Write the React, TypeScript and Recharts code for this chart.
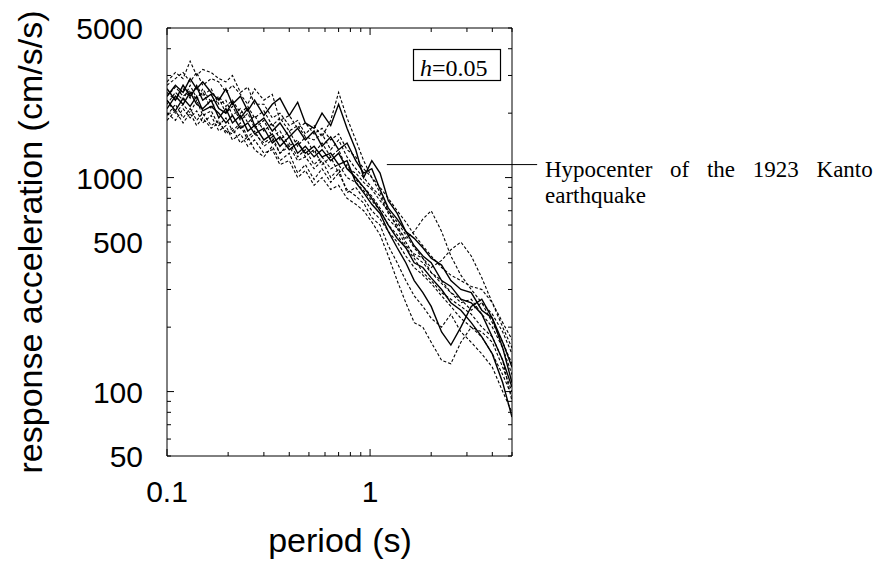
import { LineChart, Line, XAxis, YAxis, ReferenceLine } from "recharts";

// response spectra, h = 0.05 — periods in s, acceleration in cm/s/s
const periods = [
  0.1, 0.11, 0.12, 0.13, 0.14, 0.15, 0.165, 0.18, 0.195, 0.21, 0.23, 0.25, 0.27, 0.3,
  0.33, 0.36, 0.4, 0.44, 0.48, 0.53, 0.58, 0.64, 0.7, 0.77, 0.85, 0.93, 1.02, 1.12,
  1.23, 1.36, 1.5, 1.65, 1.82, 2.0, 2.25, 2.5, 2.8, 3.15, 3.55, 4.0, 4.5, 5.0,
];

const solid1 = [
  2400, 2700, 2500, 2900, 2600, 2800, 2500, 2300, 2600, 2200, 2400, 2050, 2300, 1950,
  2200, 2350, 1950, 2250, 1800, 1700, 2000, 1750, 2200, 1700, 1350, 1000, 1200, 1050,
  780, 680, 560, 520, 470, 420, 390, 330, 300, 290, 240, 220, 170, 130,
];
const solid2 = [
  2600, 2300, 2700, 2400, 2650, 2300, 2450, 2100, 2000, 2250, 1900, 2100, 1750, 1900,
  1650, 1800, 1550, 1700, 1500, 1650, 1400, 1550, 1350, 1450, 1200, 1050, 1100, 880,
  720, 640, 560, 480, 430, 400, 330, 310, 270, 260, 230, 180, 140, 105,
];
const solid3 = [
  2100, 2400, 2200, 2500, 2200, 2100, 2300, 1900, 2100, 1800, 1950, 1650, 1750, 1500,
  1600, 1400, 1550, 1300, 1400, 1250, 1350, 1200, 1300, 1100, 1000, 900, 800, 700,
  600, 520, 470, 400, 380, 340, 300, 260, 240, 210, 180, 150, 110, 76,
];
const solid4 = [
  2300, 2050, 2350, 2150, 2400, 2050, 2150, 2000, 1800, 1950, 1700, 1800, 1600, 1700,
  1450, 1550, 1350, 1450, 1300, 1400, 1250, 1300, 1150, 1200, 950, 850, 750, 680,
  560, 470, 400, 330, 290, 250, 190, 165, 200, 250, 270, 220, 160, 110,
];
const dashed1 = [
  2800, 3100, 2900, 3500, 3000, 3200, 3100, 2900, 2800, 3000, 2500, 2650, 2200, 2200,
  1900, 2000, 1750, 1850, 1600, 1750, 1550, 1850, 2500, 1900, 1500, 1200, 1000, 850,
  700, 580, 480, 440, 420, 360, 330, 290, 260, 270, 230, 200, 160, 120,
];
const dashed2 = [
  1950, 2200, 1900, 2100, 1850, 2000, 1750, 1850, 1600, 1700, 1450, 1550, 1350, 1250,
  1400, 1200, 1300, 1050, 1150, 980, 1100, 950, 1050, 880, 820, 760, 650, 600,
  480, 400, 330, 280, 250, 220, 200, 230, 190, 170, 150, 130, 100, 80,
];
const dashed3 = [
  2200, 2500, 2300, 2700, 2350, 2500, 2100, 2350, 2000, 2150, 1850, 2000, 1700, 1850,
  1550, 1650, 1400, 1500, 1250, 1350, 1150, 1250, 1050, 1150, 980, 900, 820, 720,
  640, 580, 520, 560, 640, 700, 560, 430, 350, 300, 260, 230, 190, 150,
];
const dashed4 = [
  2000, 1850, 2100, 1900, 2050, 1800, 1950, 1650, 1750, 1500, 1600, 1400, 1500, 1300,
  1350, 1150, 1200, 1000, 1080, 920, 1000, 880, 920, 800, 750, 700, 620, 540,
  430, 330, 260, 210, 200, 170, 140, 135, 170, 200, 180, 150, 120, 95,
];
const dashed5 = [
  2500, 2300, 2600, 2350, 2700, 2400, 2600, 2200, 2300, 1950, 2100, 1800, 1950, 1650,
  1800, 1500, 1650, 1400, 1550, 1300, 1450, 1250, 1350, 1100, 1050, 950, 880, 780,
  700, 620, 540, 470, 420, 380, 410, 460, 500, 430, 340, 260, 200, 160,
];
const dashed6 = [
  2700, 2900, 3100, 2800, 3100, 2700, 2900, 2800, 2500, 2700, 2450, 2200, 2600, 2300,
  2450, 1850, 1950, 1700, 1800, 1600, 1700, 1500, 1600, 1350, 1250, 1100, 1000, 900,
  800, 700, 620, 540, 480, 430, 380, 350, 330, 310, 300, 260, 210, 175,
];
const dashed7 = [
  2300, 2000, 2200, 2000, 2300, 1950, 2050, 1750, 1900, 1650, 1800, 1550, 1650, 1400,
  1500, 1300, 1400, 1200, 1250, 1100, 1200, 1000, 1100, 850, 900, 800, 700, 640,
  560, 500, 430, 380, 350, 320, 280, 250, 220, 200, 190, 170, 130, 100,
];
const dashed8 = [
  2400, 2650, 2400, 2550, 2300, 2600, 2250, 2400, 2150, 2300, 2000, 2150, 1900, 2050,
  1750, 1900, 1650, 1750, 1550, 1500, 1600, 1350, 1500, 1250, 1100, 1000, 900, 820,
  680, 600, 500, 430, 400, 360, 320, 290, 270, 240, 260, 210, 170, 135,
];
const dashed9 = [
  1850, 2050, 1800, 2000, 1750, 1900, 1700, 1800, 1650, 1600, 1750, 1500, 1600, 1450,
  1550, 1300, 1450, 1250, 1350, 1150, 1250, 1100, 1150, 1000, 950, 870, 780, 700,
  600, 540, 470, 420, 360, 330, 290, 270, 250, 230, 200, 180, 140, 90,
];

const series = [
  { key: "d1", values: dashed1, dashed: true },
  { key: "d2", values: dashed2, dashed: true },
  { key: "d3", values: dashed3, dashed: true },
  { key: "d4", values: dashed4, dashed: true },
  { key: "d5", values: dashed5, dashed: true },
  { key: "d6", values: dashed6, dashed: true },
  { key: "d7", values: dashed7, dashed: true },
  { key: "d8", values: dashed8, dashed: true },
  { key: "d9", values: dashed9, dashed: true },
  { key: "s1", values: solid1, dashed: false },
  { key: "s2", values: solid2, dashed: false },
  { key: "s3", values: solid3, dashed: false },
  { key: "s4", values: solid4, dashed: false },
];

const xTicks = [0.1, 0.2, 0.3, 0.4, 0.5, 0.6, 0.7, 0.8, 0.9, 1, 2, 3, 4, 5];
const xLabels = [0.1, 1];
const yTicks = [
  50, 60, 70, 80, 90, 100, 200, 300, 400, 500, 600, 700, 800, 900, 1000, 2000, 3000,
  4000, 5000,
];
const yLabels = [50, 100, 500, 1000, 5000];
const xMajor = [0.1, 1];
const yMajor = [100, 1000];

const rows = periods.map((p, i) => {
  const row: Record<string, number> = { period: p };
  series.forEach((s) => {
    row[s.key] = s.values[i];
  });
  return row;
});

const SANS = "'Liberation Sans', Arial, sans-serif";
const SERIF = "'Liberation Serif', 'Times New Roman', serif";

function tickLen(v: number, major: number[]) {
  return major.includes(v) ? 7 : 4;
}

function BottomTick(props: any) {
  const { x, y, payload } = props;
  const v = payload.value;
  return (
    <g>
      <line x1={x} x2={x} y1={y} y2={y - tickLen(v, xMajor)} stroke="#000" />
      {xLabels.includes(v) && (
        <text x={x} y={y + 46} textAnchor="middle" fontSize={30} fontFamily={SANS} fill="#000">
          {v}
        </text>
      )}
    </g>
  );
}

function TopTick(props: any) {
  const { x, y, payload } = props;
  return <line x1={x} x2={x} y1={y} y2={y + tickLen(payload.value, xMajor)} stroke="#000" />;
}

function LeftTick(props: any) {
  const { x, y, payload } = props;
  const v = payload.value;
  return (
    <g>
      <line x1={x} x2={x + tickLen(v, yMajor)} y1={y} y2={y} stroke="#000" />
      {yLabels.includes(v) && (
        <text x={x - 24} y={y + 11} textAnchor="end" fontSize={30} fontFamily={SANS} fill="#000">
          {v}
        </text>
      )}
    </g>
  );
}

function RightTick(props: any) {
  const { x, y, payload } = props;
  return <line x1={x} x2={x - tickLen(payload.value, yMajor)} y1={y} y2={y} stroke="#000" />;
}

const axisCommon = {
  type: "number" as const,
  scale: "log" as const,
  allowDataOverflow: true,
  interval: 0 as const,
  tickSize: 0,
  tickMargin: 0,
  tickLine: false,
  axisLine: { stroke: "#000" },
};

export default function App() {
  return (
    <div style={{ position: "absolute", left: 0, top: 0, width: 887, height: 563, background: "#fff" }}>
      <LineChart
        width={887}
        height={563}
        data={rows}
        margin={{ top: 27, right: 374, bottom: 106, left: 166 }}
      >
        <XAxis
          {...axisCommon}
          dataKey="period"
          domain={[0.1, 5]}
          ticks={xTicks}
          height={1}
          tick={<BottomTick />}
        />
        <XAxis
          {...axisCommon}
          xAxisId="top"
          orientation="top"
          dataKey="period"
          domain={[0.1, 5]}
          ticks={xTicks}
          height={1}
          tick={<TopTick />}
        />
        <YAxis {...axisCommon} domain={[50, 5000]} ticks={yTicks} width={1} tick={<LeftTick />} />
        <YAxis
          {...axisCommon}
          yAxisId="right"
          orientation="right"
          domain={[50, 5000]}
          ticks={yTicks}
          width={1}
          tick={<RightTick />}
        />
        {series.map((s) => (
          <Line
            key={s.key}
            dataKey={s.key}
            type="linear"
            stroke="#000"
            strokeWidth={s.dashed ? 1.1 : 1.4}
            strokeDasharray={s.dashed ? "3 2" : undefined}
            dot={false}
            isAnimationActive={false}
          />
        ))}
        <ReferenceLine
          segment={[
            { x: 1.21, y: 1150 },
            { x: 6.65, y: 1150 },
          ]}
          ifOverflow="visible"
          stroke="#000"
          strokeWidth={1}
        />
      </LineChart>
      <svg
        width={887}
        height={563}
        style={{ position: "absolute", left: 0, top: 0, pointerEvents: "none" }}
      >
        <text
          transform="translate(42,242) rotate(-90)"
          textAnchor="middle"
          fontSize={34}
          fontFamily={SANS}
          fill="#000"
        >
          response acceleration (cm/s/s)
        </text>
        <text x={340} y={552} textAnchor="middle" fontSize={34} fontFamily={SANS} fill="#000">
          period (s)
        </text>
        <rect x={413.5} y={49.5} width={87} height={31} fill="#fff" stroke="#000" strokeWidth={1.2} />
        <text x={420} y={76} fontSize={24} fontFamily={SERIF} fill="#000">
          <tspan fontStyle="italic">h</tspan>=0.05
        </text>
        <text fontSize={23} fontFamily={SERIF} fill="#000" style={{ wordSpacing: 12 }}>
          <tspan x={545} y={177}>Hypocenter of the 1923 Kanto</tspan>
          <tspan x={545} y={203}>earthquake</tspan>
        </text>
      </svg>
    </div>
  );
}
